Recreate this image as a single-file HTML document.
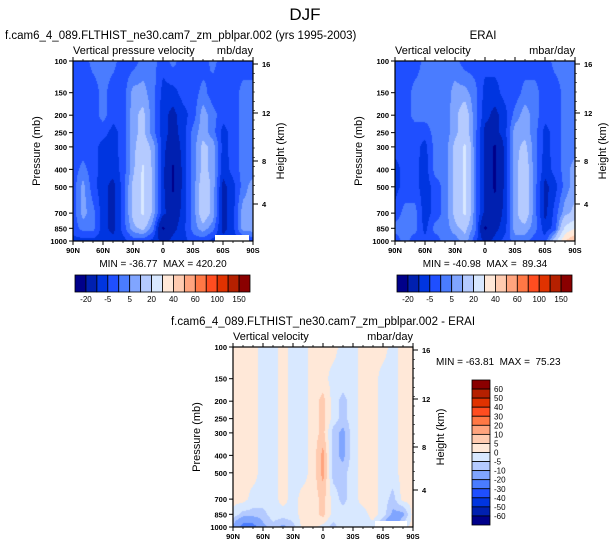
<!DOCTYPE html>
<html><head><meta charset="utf-8"><style>
html,body{margin:0;padding:0;background:#fff;width:611px;height:547px;overflow:hidden}
#wrap{position:relative;width:611px;height:547px;font-family:"Liberation Sans",Arial,sans-serif}
canvas{position:absolute}
svg{position:absolute;left:0;top:0}
text{font-family:"Liberation Sans",Arial,sans-serif;fill:#000;white-space:pre}
</style></head><body>
<div id="wrap">
<canvas id="c1" width="180" height="180" style="left:73px;top:61px"></canvas>
<canvas id="c2" width="180" height="180" style="left:395px;top:61px"></canvas>
<canvas id="c3" width="180" height="180" style="left:233px;top:347px"></canvas>
<svg id="s" width="611" height="547"></svg>
</div>
<script>
const lats=[90,80,70,60,50,40,30,20,10,0,-10,-20,-30,-40,-50,-60,-70,-80,-90];
const pLevels=[100,150,200,250,300,400,500,700,850,1000];
const latTickLabels=["90N","60N","30N","0","30S","60S","90S"];
const latTickValues=[90,60,30,0,-30,-60,-90];
const heightTicks=[16,12,8,4];
const absLevels=[-20,-10,-5,0,5,10,20,30,40,50,60,80,100,125,150];
const absLabels=["-20","-5","5","20","40","60","100","150"];
const diffLevels=[-60,-50,-40,-30,-20,-10,-5,0,5,10,20,30,40,50,60];
const cmap=["#00008a","#0020b0","#0035e0","#1f4fff","#4a7cff","#80a5ff","#b4caff","#d8e8ff","#ffe8d8","#ffcbb0","#ffa47e","#ff7845","#ff4d20","#e03200","#b52000","#8a0000"];
const modelField=[
[-3,-3,2,2,2,-3,-3,2,2,-3,2,-3,-3,-3,2,-3,-3,-3,-3],
[-3,-3,-3,2,-3,-3,7,7,2,-7,-7,-3,-3,2,-3,-3,-3,2,2],
[-3,-3,-3,2,-3,-3,8,12,2,-8,-12,-7,-3,8,2,-3,-3,2,2],
[-3,-3,-3,-3,-7,-3,8,12,2,-8,-12,-8,2,8,2,-7,-3,2,2],
[-3,-3,-3,-7,-7,-3,8,15,8,-8,-15,-8,2,12,8,-7,-3,2,2],
[-3,2,-3,-7,-8,-3,8,22,8,-8,-22,-8,2,12,8,-8,-3,2,2],
[-3,7,-3,-8,-12,-3,12,22,8,-8,-22,-8,2,15,8,-12,-7,2,8],
[-3,7,2,-8,-12,-3,12,22,8,-8,-15,-8,2,15,8,-12,-7,8,8],
[-3,2,2,-8,-12,-3,8,12,2,-22,-12,-7,2,8,2,-12,-7,8,8],
[-7,-7,-7,-7,-8,-7,-3,-3,-7,-12,-8,-7,-3,-3,-7,-8,-7,-7,-3]];
const eraiField=[
[-3,-3,-3,2,2,2,2,-3,-3,-3,-3,-3,-3,-3,-3,-3,2,2,2],
[-3,-3,2,2,2,2,7,7,2,-7,-7,-3,-3,2,2,-3,-3,2,2],
[-3,-3,2,2,2,2,8,15,2,-8,-12,-7,2,8,2,-3,-3,2,2],
[-3,-3,-3,-3,2,2,8,15,2,-12,-12,-7,8,8,2,-7,-3,2,2],
[-3,-3,-3,-7,2,2,12,22,2,-12,-22,-8,8,12,2,-7,-3,2,2],
[-7,-3,-3,-8,2,2,12,22,2,-12,-22,-8,8,15,2,-8,-3,2,8],
[-7,-3,-3,-8,-3,2,12,22,2,-12,-22,-8,8,15,2,-12,-7,2,8],
[-3,2,2,-8,-3,2,12,22,2,-12,-15,-8,8,15,2,-12,-3,8,12],
[2,2,2,-7,2,2,8,12,2,-22,-12,-7,8,8,2,-8,-3,22,30],
[-3,2,-3,-3,-3,2,2,8,-3,-12,-8,-3,2,2,-3,-3,15,40,50]];
const diffField=[
[2,2,2,-2,-2,2,-2,-2,2,2,2,-2,-2,2,2,2,-2,2,2],
[2,2,2,-2,-2,2,-2,-2,2,2,-2,-2,-2,2,2,-2,-2,2,2],
[2,2,2,-2,-2,2,-2,-2,2,7,-2,-7,-2,2,2,-2,-2,2,2],
[2,2,2,-2,-2,2,-2,-2,2,7,-2,-7,-2,2,2,-2,-2,2,2],
[2,2,2,-2,-2,2,-2,-2,2,7,-7,-12,-2,2,2,-2,-2,2,2],
[2,2,2,-2,-2,2,-2,-2,2,12,-7,-12,-2,2,2,-2,-2,2,2],
[2,2,2,-2,-2,2,-2,-2,2,12,-7,-7,-2,2,2,-2,-2,2,2],
[2,2,-2,-2,-2,2,-2,2,2,7,-2,-7,-2,2,2,-2,-7,2,2],
[-2,-7,-7,-7,-2,-2,-2,2,2,7,-2,-2,-2,-2,2,-2,-12,-12,2],
[-12,-25,-25,-12,-7,-12,-7,2,2,-2,-7,-2,-2,-2,-2,-12,-25,-2,2]];

const W=180,H=180;
const xOfLat=l=>(90-l)/180*W;
const yOfP=p=>Math.log10(p/100)*H;
function hex(c){return [parseInt(c.substr(1,2),16),parseInt(c.substr(3,2),16),parseInt(c.substr(5,2),16)];}
const rgb=cmap.map(hex);
function colorIdx(v,lev){let i=0;while(i<lev.length&&v>=lev[i])i++;return i;}
function sample(f,lat,p){
  let fi=(90-lat)/10;fi=Math.max(0,Math.min(lats.length-1.0001,fi));
  const i0=Math.floor(fi),tx=fi-i0;
  const lp=Math.log10(p);let j0=0;
  while(j0<pLevels.length-2&&lp>Math.log10(pLevels[j0+1]))j0++;
  let ty=(lp-Math.log10(pLevels[j0]))/(Math.log10(pLevels[j0+1])-Math.log10(pLevels[j0]));
  ty=Math.max(0,Math.min(1,ty));
  const a=f[j0][i0],b=f[j0][i0+1],c=f[j0+1][i0],d=f[j0+1][i0+1];
  return (a*(1-tx)+b*tx)*(1-ty)+(c*(1-tx)+d*tx)*ty;
}
function draw(id,f,lev){
  const cv=document.getElementById(id),ctx=cv.getContext('2d'),img=ctx.createImageData(W,H);
  for(let y=0;y<H;y++){const p=100*Math.pow(10,(y+0.5)/H);
    for(let x=0;x<W;x++){const lat=90-(x+0.5)/W*180;
      const k=colorIdx(sample(f,lat,p),lev),c=rgb[k],o=(y*W+x)*4;
      img.data[o]=c[0];img.data[o+1]=c[1];img.data[o+2]=c[2];img.data[o+3]=255;}}
  ctx.putImageData(img,0,0);
}
draw('c1',modelField,absLevels);
draw('c2',eraiField,absLevels);
draw('c3',diffField,diffLevels);

const NS='http://www.w3.org/2000/svg',S=document.getElementById('s');
function el(tag,attrs,txt){const e=document.createElementNS(NS,tag);for(const k in attrs)e.setAttribute(k,attrs[k]);if(txt!==undefined)e.textContent=txt;S.appendChild(e);return e;}
function txt(x,y,s,size,anchor,name,extra){const t=el('text',Object.assign({x:x,y:y,'font-size':size,'text-anchor':anchor||'start'},extra||{}),s);

return t;}

txt(305,20,'DJF',17,'middle','figure-title');

function panel(ox,oy,pfx,title,titleX,titleY,titleAnchor,leftLab,unit,missing){
  txt(titleX,titleY,title,11.5,titleAnchor,pfx+'-title');
  txt(ox,oy-7,leftLab,11,'start',pfx+'-variable-label');
  txt(ox+W,oy-7,unit,11,'end',pfx+'-units-label');
  if(missing){const m=el('rect',{x:ox+missing[0],y:oy+missing[1],width:missing[2],height:missing[3],fill:'#fff'});
    
    }
  const fr=el('rect',{x:ox,y:oy,width:W,height:H,fill:'none',stroke:'#000','stroke-width':1.2});
  
  
  pLevels.forEach(p=>{const y=oy+yOfP(p);
    el('line',{x1:ox-4,x2:ox,y1:y,y2:y,stroke:'#000','stroke-width':1});
    txt(ox-6,y+3,String(p),7.5,'end',pfx+'-pressure-tick-label',{'font-weight':'bold'});});
  latTickValues.forEach((l,i)=>{const x=ox+xOfLat(l);
    el('line',{x1:x,x2:x,y1:oy+H,y2:oy+H+4,stroke:'#000','stroke-width':1});
    el('line',{x1:x,x2:x,y1:oy,y2:oy-4,stroke:'#000','stroke-width':1});
    txt(x,oy+H+12,latTickLabels[i],7.5,'middle',pfx+'-lat-tick-label',{'font-weight':'bold'});});
  for(let l=80;l>-90;l-=10){if(l%30===0)continue;const x=ox+xOfLat(l);
    el('line',{x1:x,x2:x,y1:oy+H,y2:oy+H+2,stroke:'#000','stroke-width':0.8});
    el('line',{x1:x,x2:x,y1:oy,y2:oy-2,stroke:'#000','stroke-width':0.8});}
  const hOff=[3,52,100,143];
  heightTicks.forEach((h,i)=>{const y=oy+hOff[i];
    el('line',{x1:ox+W,x2:ox+W+5,y1:y,y2:y,stroke:'#000','stroke-width':1});
    txt(ox+W+9,y+3,String(h),7.5,'start',pfx+'-height-tick-label',{'font-weight':'bold'});});
  for(let k=0;k<16;k++){const y=oy+3+k*(140/15);
    el('line',{x1:ox+W,x2:ox+W+2,y1:y,y2:y,stroke:'#000','stroke-width':0.6});}
  txt(ox-33,oy+H/2,'Pressure (mb)',11,'middle',pfx+'-y-axis-title',{transform:`rotate(-90 ${ox-33} ${oy+H/2})`});
  txt(ox+W+31,oy+H/2,'Height (km)',11,'middle',pfx+'-right-axis-title',{transform:`rotate(-90 ${ox+W+31} ${oy+H/2})`});
}
panel(73,61,'model','f.cam6_4_089.FLTHIST_ne30.cam7_zm_pblpar.002 (yrs 1995-2003)',5,39,'start','Vertical pressure velocity','mb/day',[142,174,34,6]);
panel(395,61,'erai','ERAI',483,39,'middle','Vertical velocity','mbar/day',null);
panel(233,347,'diff','f.cam6_4_089.FLTHIST_ne30.cam7_zm_pblpar.002 - ERAI',323,325,'middle','Vertical velocity','mbar/day',[142,174,32,6]);

txt(163,267,'MIN = -36.77\u00a0\u00a0MAX = 420.20',10,'middle','model-min-max');
txt(485,267,'MIN = -40.98\u00a0\u00a0MAX =\u00a0\u00a089.34',10,'middle','erai-min-max');
txt(436,365,'MIN = -63.81\u00a0\u00a0MAX =\u00a0\u00a075.23',10,'start','diff-min-max');

function hbar(x0,pfx){const bw=175/16;
  for(let k=0;k<16;k++){const r=el('rect',{x:x0+k*bw,y:275,width:bw,height:17,fill:cmap[k],stroke:'#000','stroke-width':0.8});
    
    }
  absLabels.forEach((s,i)=>txt(x0+(2*i+1)*bw,302,s,8,'middle',pfx+'-colorbar-label'));
}
hbar(75,'model');hbar(397,'erai');
(function(){const x0=472,y0=380,bh=145/16;
  for(let k=0;k<16;k++){const r=el('rect',{x:x0,y:y0+k*bh,width:18,height:bh,fill:cmap[15-k],stroke:'#000','stroke-width':0.8});
    
    }
  for(let i=0;i<diffLevels.length;i++){const v=diffLevels[diffLevels.length-1-i];
    txt(x0+22,y0+(i+1)*bh+3,String(v),8,'start','diff-colorbar-label');}
})();
</script>
</body></html>
